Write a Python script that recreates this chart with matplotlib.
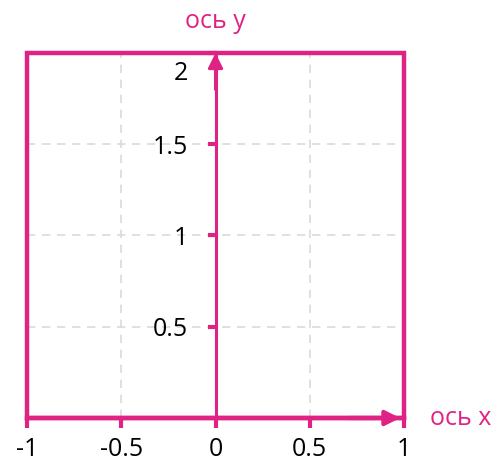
import matplotlib
matplotlib.use('Agg')
import matplotlib.pyplot as plt
import matplotlib.transforms as mtransforms
from matplotlib.patches import Rectangle

# ------------------------------
# Данные
# ------------------------------
x_ticks = [-1, -0.5, 0, 0.5, 1]
x_labels = ['-1', '-0.5', '0', '0.5', '1']
y_ticks = [0.5, 1, 1.5, 2]
y_labels = ['0.5', '1', '1.5', '2']
x_range = (-1, 1)
y_range = (0, 2)

pink = '#df2385'
plt.rcParams['font.family'] = ['Open Sans', 'DejaVu Sans']

fig = plt.figure(figsize=(5.03, 4.65), dpi=100)
ax = fig.add_axes([27 / 503, 47 / 465, 377 / 503, 365 / 465])
ax.set_xlim(*x_range)
ax.set_ylim(*y_range)

# сетка
for xv in x_ticks[1:-1]:
    if xv != 0:
        ax.axvline(xv, color='#dadada', lw=1.2, ls=(0, (5, 4)), zorder=0)
for yv in y_ticks[:-1]:
    ax.axhline(yv, color='#dadada', lw=1.2, ls=(0, (5, 4)), zorder=0)

# рамка
ax.add_patch(Rectangle((0, 0), 1, 1, transform=ax.transAxes, fill=False,
                       edgecolor=pink, lw=3.2, clip_on=False, zorder=3))

# оси
ax.spines['top'].set_visible(False)
ax.spines['right'].set_visible(False)
ax.spines['bottom'].set_color(pink)
ax.spines['bottom'].set_linewidth(3.2)
ax.spines['left'].set_position(('data', 0))
ax.spines['left'].set_color(pink)
ax.spines['left'].set_linewidth(2.2)

ax.set_xticks(x_ticks)
ax.set_xticklabels(x_labels)
ax.set_yticks(y_ticks)
ax.set_yticklabels(y_labels)
ax.tick_params(axis='x', colors=pink, labelcolor='black', length=7, width=3,
               direction='out', labelsize=18, pad=7)
ax.tick_params(axis='y', colors=pink, labelcolor='black', length=6, width=3,
               direction='out', labelsize=18, pad=14)
# верхняя подпись "2" опускается под рамку
top_label = ax.get_yticklabels()[-1]
top_label.set_va('top')
top_label.set_transform(top_label.get_transform() +
                        mtransforms.ScaledTranslation(0, -6 / 72, fig.dpi_scale_trans))

# стрелки
ax.annotate('', xy=(0, y_range[1]), xytext=(0, y_range[1] - 0.2),
            arrowprops=dict(arrowstyle='-|>', color=pink, lw=2.2, mutation_scale=22,
                            shrinkA=0, shrinkB=0), annotation_clip=False, zorder=4)
ax.annotate('', xy=(x_range[1] - 0.02, 0), xytext=(x_range[1] - 0.3, 0),
            arrowprops=dict(arrowstyle='-|>', color=pink, lw=3, mutation_scale=22,
                            shrinkA=0, shrinkB=0), annotation_clip=False, zorder=4)

# подписи осей
ax.text(0, 1.085, 'ось y', transform=ax.get_xaxis_transform(), color=pink,
        fontsize=18, ha='center', va='center')
ax.text(1.07, 0, 'ось x', transform=ax.get_yaxis_transform(), color=pink,
        fontsize=18, ha='left', va='center')

fig.savefig('out.png', dpi=100)
